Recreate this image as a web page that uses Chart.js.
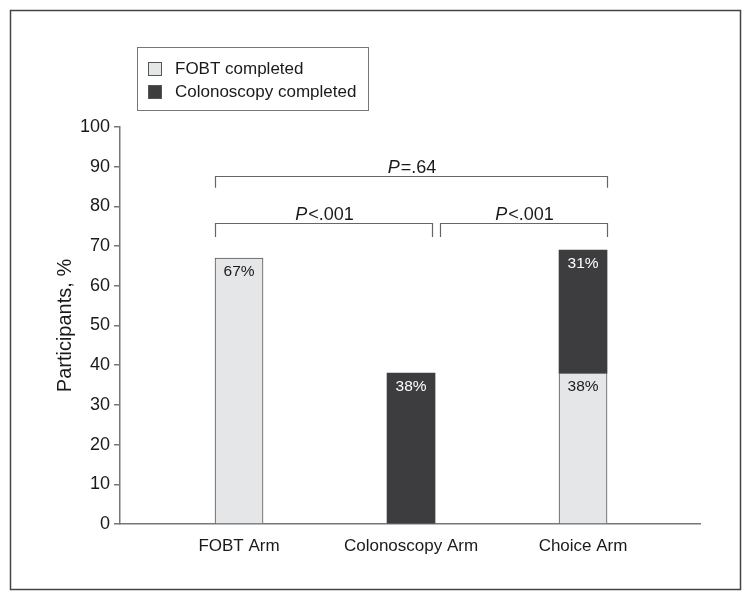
<!DOCTYPE html>
<html>
<head>
<meta charset="utf-8">
<script src="https://cdn.jsdelivr.net/npm/chart.js@4.4.1/dist/chart.umd.min.js"></script>
<style>
  html, body { margin: 0; padding: 0; background: #fff; }
  #wrap { width: 751px; height: 600px; }
</style>
</head>
<body>
<div id="wrap"><canvas id="chart" width="751" height="600"></canvas></div>
<script>
const categories = ['FOBT Arm', 'Colonoscopy Arm', 'Choice Arm'];
const fobtCompleted = [67, null, 38];
const colonoscopyCompleted = [null, 38, 31];
const yTicks = [0, 10, 20, 30, 40, 50, 60, 70, 80, 90, 100];
// significance brackets: x ends in category units, y in %
const comparisons = [
  { text: '=.64', from: -0.14, to: 2.14, y: 87.7, leg: 3 },
  { text: '<.001', from: -0.14, to: 1.12, y: 75.8, leg: 3.5 },
  { text: '<.001', from: 1.17, to: 2.14, y: 75.8, leg: 3.5 }
];

const FONT = '"Liberation Sans", Arial, sans-serif';
const LIGHT = '#e5e6e7', DARK = '#3d3d3f';

const toPoints = arr => arr.map((v, i) => ({ x: i, y: v }));

const extras = {
  id: 'extras',
  afterDatasetsDraw(chart) {
    const { ctx, scales: { x, y } } = chart;
    ctx.save();

    // value labels at top of each segment
    ctx.textAlign = 'center';
    ctx.textBaseline = 'middle';
    ctx.font = '15.5px ' + FONT;
    chart.data.datasets.forEach((ds, di) => {
      chart.getDatasetMeta(di).data.forEach((bar, i) => {
        const v = ds.data[i].y;
        if (v == null) return;
        ctx.fillStyle = ds.labelColor;
        ctx.fillText(v + '%', bar.x, bar.y + 14);
      });
    });

    // brackets
    ctx.strokeStyle = '#666';
    ctx.lineWidth = 1.2;
    comparisons.forEach(c => {
      const x1 = Math.round(x.getPixelForValue(c.from)) + 0.5;
      const x2 = Math.round(x.getPixelForValue(c.to)) + 0.5;
      const yt = Math.round(y.getPixelForValue(c.y)) + 0.5;
      const yb = y.getPixelForValue(c.y - c.leg);
      ctx.beginPath();
      ctx.moveTo(x1, yb); ctx.lineTo(x1, yt); ctx.lineTo(x2, yt); ctx.lineTo(x2, yb);
      ctx.stroke();
      ctx.fillStyle = '#1a1a1a';
      ctx.textBaseline = 'alphabetic';
      const fi = 'italic 18px ' + FONT, fn = '18px ' + FONT;
      ctx.font = fi; const wP = ctx.measureText('P').width;
      ctx.font = fn; const wT = ctx.measureText(c.text).width;
      const sx = (x1 + x2) / 2 - (wP + wT) / 2;
      ctx.textAlign = 'left';
      ctx.font = fi; ctx.fillText('P', sx, yt - 4);
      ctx.font = fn; ctx.fillText(c.text, sx + wP + 1, yt - 4);
    });

    // legend box
    ctx.strokeStyle = '#777';
    ctx.lineWidth = 1;
    ctx.strokeRect(137.5, 47.5, 231, 63);
    ctx.font = '17px ' + FONT;
    ctx.textAlign = 'left';
    ctx.textBaseline = 'middle';
    chart.data.datasets.forEach((ds, di) => {
      const top = 62 + di * 23;
      ctx.fillStyle = ds.backgroundColor;
      ctx.fillRect(148, top, 14, 14);
      ctx.strokeStyle = '#555';
      ctx.strokeRect(148.5, top + 0.5, 13, 13);
      ctx.fillStyle = '#1a1a1a';
      ctx.fillText(ds.label, 175, top + 7);
    });

    // outer frame
    ctx.strokeStyle = '#444';
    ctx.lineWidth = 1.5;
    ctx.strokeRect(10.5, 10.5, 730, 579);
    ctx.restore();
  }
};

new Chart(document.getElementById('chart'), {
  type: 'bar',
  data: {
    datasets: [
      { label: 'FOBT completed', data: toPoints(fobtCompleted), backgroundColor: LIGHT,
        borderColor: '#555', borderWidth: 1, labelColor: '#1a1a1a' },
      { label: 'Colonoscopy completed', data: toPoints(colonoscopyCompleted), backgroundColor: DARK,
        borderColor: DARK, borderWidth: 0, labelColor: '#fff' }
    ]
  },
  options: {
    responsive: false,
    animation: false,
    devicePixelRatio: 1,
    barThickness: 48,
    layout: { padding: { top: 127, right: 51, bottom: 36, left: 0 } },
    plugins: { legend: { display: false }, tooltip: { enabled: false } },
    scales: {
      x: {
        type: 'linear',
        stacked: true,
        offset: false,
        min: -0.692,
        max: 2.68,
        afterBuildTicks: s => { s.ticks = categories.map((c, i) => ({ value: i })); },
        afterFit: s => { s.height = 40; },
        grid: { display: false },
        border: { display: true, color: '#777', width: 1.5 },
        ticks: { color: '#1a1a1a', font: { family: FONT, size: 17 }, padding: 4,
                 callback: v => categories[v] }
      },
      y: {
        stacked: true,
        min: 0,
        max: 100,
        afterBuildTicks: s => { s.ticks = yTicks.map(v => ({ value: v })); },
        afterFit: s => { s.width = 120; },
        grid: { drawOnChartArea: false, drawTicks: true, tickLength: 6, color: '#777', lineWidth: 1.5 },
        border: { display: true, color: '#777', width: 1.5 },
        ticks: { color: '#1a1a1a', font: { family: FONT, size: 18 }, padding: 4 },
        title: { display: true, text: 'Participants, %', color: '#1a1a1a',
                 font: { family: FONT, size: 20 },
                 padding: { top: 53, bottom: 0 } }
      }
    }
  },
  plugins: [extras]
});
</script>
</body>
</html>
